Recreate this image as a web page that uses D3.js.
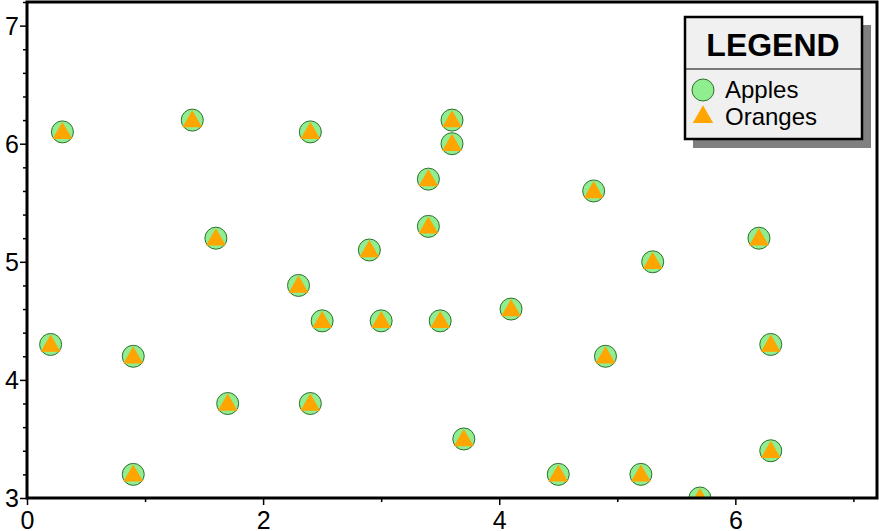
<!DOCTYPE html>
<html><head><meta charset="utf-8">
<script src="https://cdn.jsdelivr.net/npm/d3@7"></script>
<style>body{margin:0;background:#fff}svg{display:block}text{font-family:"Liberation Sans",Arial,Helvetica,sans-serif}</style>
</head><body><svg id="c" width="879" height="531"></svg>
<script>
const xs = [0.3,1.4,2.4,3.6,3.6,3.4,4.8,1.6,3.4,2.9,5.3,6.2,2.3,2.5,3.0,3.5,4.1,0.2,0.9,4.9,6.3,1.7,2.4,3.7,0.9,4.5,5.2,5.7,6.3];
const ys = [6.1,6.2,6.1,6.2,6.0,5.7,5.6,5.2,5.3,5.1,5.0,5.2,4.8,4.5,4.5,4.5,4.6,4.3,4.2,4.2,4.3,3.8,3.8,3.5,3.2,3.2,3.2,3.0,3.4];
const seriesNames = ["Apples","Oranges"];
const xTicks = [0,2,4,6];
const yTicks = [3,4,5,6,7];
const legendTitle = "LEGEND";

const svg = d3.select("#c");
const L=27,R=877,T=2,B=498;
const x = d3.scaleLinear().domain([0,7.2]).range([L,R]);
const y = d3.scaleLinear().domain([3,7.2]).range([B,T]);

svg.append("clipPath").attr("id","clip").append("rect").attr("x",L).attr("y",T).attr("width",R-L).attr("height",B-T);

const pts = xs.map((v,i)=>({x:v,y:ys[i]}));
const g = svg.append("g").attr("clip-path","url(#clip)");
g.selectAll("circle").data(pts).enter().append("circle")
 .attr("cx",d=>x(d.x)).attr("cy",d=>y(d.y)).attr("r",11)
 .attr("fill","#90ee90").attr("stroke","#2f6f2f").attr("stroke-width",1);
const tri = d3.symbol().type(d3.symbolTriangle).size(170);
g.selectAll("path.tri").data(pts).enter().append("path").attr("class","tri")
 .attr("d",tri).attr("transform",d=>`translate(${x(d.x)},${y(d.y)+1.5})`)
 .attr("fill","#ffa500");

// axes
const xMajor = d3.axisBottom(x).tickValues(xTicks).tickSize(7).tickFormat(d3.format("d"));
const xMinor = d3.axisBottom(x).tickValues([1,3,5,7]).tickSize(4).tickFormat("");
const yMajor = d3.axisLeft(y).tickValues(yTicks).tickSize(7).tickFormat(d3.format("d"));
const yMinor = d3.axisLeft(y).tickValues(d3.range(3,7.21,0.2).map(v=>+v.toFixed(1)).filter(v=>Math.abs(v-Math.round(v))>1e-6)).tickSize(4).tickFormat("");
function style(sel){sel.select(".domain").remove();sel.selectAll("line").attr("stroke","#000").attr("stroke-width",1.5);
 sel.selectAll("text").attr("font-size",25).attr("fill","#000");}
svg.append("g").attr("transform",`translate(0,${B})`).call(xMajor).call(style).selectAll("text").attr("dy",null).attr("y",31);
svg.append("g").attr("transform",`translate(0,${B})`).call(xMinor).call(style);
svg.append("g").attr("transform",`translate(${L},0)`).call(yMajor).call(style).selectAll("text").attr("x",-8).attr("dy","0.35em");
svg.append("g").attr("transform",`translate(${L},0)`).call(yMinor).call(style);
svg.append("rect").attr("x",L).attr("y",T).attr("width",R-L).attr("height",B-T).attr("fill","none").attr("stroke","#000").attr("stroke-width",3);

// legend
const lg = svg.append("g");
lg.append("rect").attr("x",693).attr("y",25).attr("width",178).attr("height",123).attr("fill","#808080");
lg.append("rect").attr("x",685).attr("y",17).attr("width",177).attr("height",122).attr("fill","#f0f0f0").attr("stroke","#000").attr("stroke-width",2.5);
lg.append("line").attr("x1",685).attr("x2",862).attr("y1",69).attr("y2",69).attr("stroke","#000").attr("stroke-width",1);
lg.append("text").attr("x",773).attr("y",56).attr("text-anchor","middle").attr("font-size",32).attr("font-weight","bold").text(legendTitle);
lg.append("circle").attr("cx",703).attr("cy",90).attr("r",11).attr("fill","#90ee90").attr("stroke","#2f6f2f");
lg.append("path").attr("d",d3.symbol().type(d3.symbolTriangle).size(180)).attr("transform","translate(703,117)").attr("fill","#ffa500");
lg.append("text").attr("x",725).attr("y",98).attr("font-size",24).text(seriesNames[0]);
lg.append("text").attr("x",725).attr("y",125).attr("font-size",24).text(seriesNames[1]);
</script></body></html>
